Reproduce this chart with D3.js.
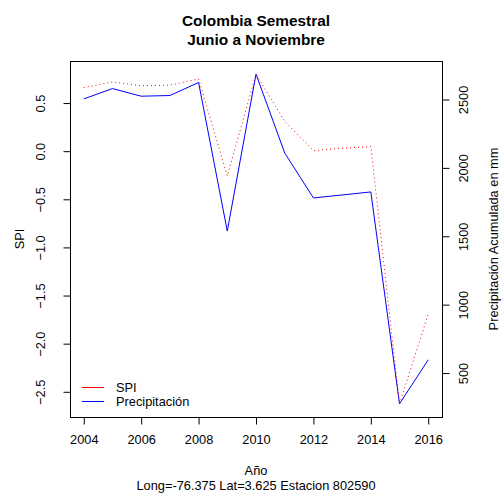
<!DOCTYPE html>
<html>
<head>
<meta charset="utf-8">
<script src="https://cdn.jsdelivr.net/npm/d3@7/dist/d3.min.js"></script>
<style>
  html, body { margin: 0; padding: 0; background: #fff; }
  svg text { font-family: "Liberation Sans", Arial, Helvetica, sans-serif; fill: #000; }
</style>
</head>
<body>
<svg id="chart" width="503" height="495"></svg>
<script>
// Semester series, June to November
const years = [2004, 2005, 2006, 2007, 2008, 2009, 2010, 2011, 2012, 2013, 2014, 2015, 2016];
const spi = [0.66, 0.72, 0.68, 0.686, 0.75, -0.257, 0.80, 0.31, 0.006, 0.03, 0.048, -2.625, -1.694];
const precip = [2504, 2580, 2524, 2529, 2624, 1538, 2685, 2109, 1780, 1802, 1824, 275, 597];

const xTicks = [2004, 2006, 2008, 2010, 2012, 2014, 2016];
const spiTicks = [0.5, 0.0, -0.5, -1.0, -1.5, -2.0, -2.5];
const precipTicks = [500, 1000, 1500, 2000, 2500];

const titleLines = ["Colombia Semestral", "Junio a Noviembre"];
const xLabelLines = ["Año", "Long=-76.375 Lat=3.625 Estacion 802590"];
const legendItems = [
  { label: "SPI", color: "red" },
  { label: "Precipitación", color: "blue" }
];

const plot = { left: 70, right: 442, top: 61, bottom: 417 };
const fontSize = 12.8;

// Extend a data range by 4% on each side
function padded(vals) {
  const [lo, hi] = d3.extent(vals);
  const p = (hi - lo) * 0.04;
  return [lo - p, hi + p];
}

const x = d3.scaleLinear().domain(padded(years)).range([plot.left, plot.right]);
const ySpi = d3.scaleLinear().domain(padded(spi)).range([plot.bottom, plot.top]);
const yPre = d3.scaleLinear().domain(padded(precip)).range([plot.bottom, plot.top]);

const svg = d3.select("#chart");

// Series
const spiLine = d3.line().x((d, i) => x(years[i])).y(d => ySpi(d));
const preLine = d3.line().x((d, i) => x(years[i])).y(d => yPre(d));

svg.append("path")
  .datum(precip)
  .attr("d", preLine)
  .attr("fill", "none")
  .attr("stroke", "blue")
  .attr("stroke-width", 1);

svg.append("path")
  .datum(spi)
  .attr("d", spiLine)
  .attr("fill", "none")
  .attr("stroke", "red")
  .attr("stroke-width", 1)
  .attr("stroke-dasharray", "1,3");

// Frame
svg.append("rect")
  .attr("x", plot.left + 0.5)
  .attr("y", plot.top + 0.5)
  .attr("width", plot.right - plot.left)
  .attr("height", plot.bottom - plot.top)
  .attr("fill", "none")
  .attr("stroke", "#000")
  .attr("stroke-width", 1);

// Bottom axis
const xAxis = svg.append("g")
  .attr("transform", `translate(0,${plot.bottom + 0.5})`)
  .call(d3.axisBottom(x).tickValues(xTicks).tickFormat(d3.format("d")).tickSize(7).tickPadding(10));
xAxis.select(".domain")
  .attr("d", `M${x(xTicks[0])},0H${x(xTicks[xTicks.length - 1])}`);
xAxis.selectAll("text").attr("font-size", fontSize).style("font-family", null).attr("font-family", null);

// Left axis (SPI)
const yAxisL = svg.append("g")
  .attr("transform", `translate(${plot.left + 0.5},0)`)
  .call(d3.axisLeft(ySpi).tickValues(spiTicks).tickFormat(d3.format(".1f")).tickSize(7));
yAxisL.select(".domain").remove();
yAxisL.selectAll("text")
  .attr("font-size", fontSize)
  .attr("x", null).attr("dy", null)
  .attr("text-anchor", "middle")
  .attr("transform", "translate(-26,0) rotate(-90)");

// Right axis (precipitation)
const yAxisR = svg.append("g")
  .attr("transform", `translate(${plot.right + 0.5},0)`)
  .call(d3.axisRight(yPre).tickValues(precipTicks).tickFormat(d3.format("d")).tickSize(7));
yAxisR.select(".domain").remove();
yAxisR.selectAll("text")
  .attr("font-size", fontSize)
  .attr("x", null).attr("dy", null)
  .attr("text-anchor", "middle")
  .attr("transform", "translate(25,0) rotate(-90)");

svg.selectAll(".tick line").attr("stroke", "#000");
svg.selectAll(".domain").attr("stroke", "#000");

// Title
const cx = (plot.left + plot.right) / 2;
svg.selectAll(".title")
  .data(titleLines)
  .enter().append("text")
  .attr("class", "title")
  .attr("x", cx)
  .attr("y", (d, i) => 26 + i * 19)
  .attr("text-anchor", "middle")
  .attr("font-size", 15.4)
  .attr("font-weight", "bold")
  .text(d => d);

// Axis titles
svg.selectAll(".xlab")
  .data(xLabelLines)
  .enter().append("text")
  .attr("class", "xlab")
  .attr("x", cx)
  .attr("y", (d, i) => 475 + i * 15)
  .attr("text-anchor", "middle")
  .attr("font-size", fontSize)
  .text(d => d);

svg.append("text")
  .attr("transform", `translate(24,${(plot.top + plot.bottom) / 2}) rotate(-90)`)
  .attr("text-anchor", "middle")
  .attr("font-size", fontSize)
  .text("SPI");

svg.append("text")
  .attr("transform", `translate(498,${(plot.top + plot.bottom) / 2}) rotate(-90)`)
  .attr("text-anchor", "middle")
  .attr("font-size", fontSize)
  .text("Precipitación Acumulada en mm");

// Legend
const legend = svg.append("g");
legendItems.forEach((item, i) => {
  const ly = 387 + i * 14;
  legend.append("line")
    .attr("x1", 82).attr("x2", 104)
    .attr("y1", ly + 0.5).attr("y2", ly + 0.5)
    .attr("stroke", item.color)
    .attr("stroke-width", 1);
  legend.append("text")
    .attr("x", 116)
    .attr("y", ly + 4.5)
    .attr("font-size", fontSize)
    .text(item.label);
});
</script>
</body>
</html>
